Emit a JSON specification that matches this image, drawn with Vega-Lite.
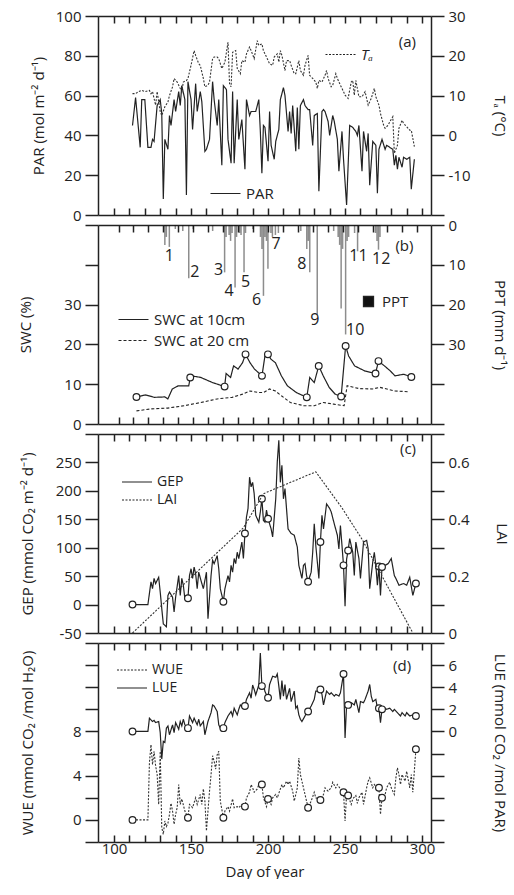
{
"$schema":"https://vega.github.io/schema/vega-lite/v6.json",
"padding":{"left":18,"top":9,"right":3,"bottom":0},
"bounds":"flush",
"config":{
 "font":"Open Sans",
 "view":{"stroke":null},
 "axis":{"grid":false,"ticks":true,"labelOverlap":false,"zindex":1,"domainColor":"#222","domainWidth":1.5,"tickColor":"#222","tickWidth":1.5,"tickSize":13,"labelPadding":4,"labelFontSize":15,"labelColor":"#222","titleFontSize":15,"titleFontWeight":"normal","titleColor":"#222"},
 "axisY":{"titleBaseline":"middle"},
 "legend":{"orient":"none","title":null,"labelFontSize":15,"labelColor":"#222","symbolType":"M-3,0H3","symbolSize":100,"symbolStrokeWidth":1.3,"symbolStrokeColor":"#222","padding":0,"rowPadding":2,"labelOffset":13},
 "line":{"color":"#222","strokeWidth":1.2},
 "text":{"color":"#222","fontSize":15}
},
"datasets":{
 "par":[{"day":112,"v":45},{"day":114,"v":59},{"day":117,"v":34},{"day":118,"v":58},{"day":120,"v":58},{"day":122,"v":34},{"day":124,"v":34},{"day":125,"v":38},{"day":126,"v":37},{"day":128,"v":55},{"day":130,"v":58},{"day":131,"v":51},{"day":132,"v":8},{"day":133,"v":38},{"day":135,"v":33},{"day":136,"v":50},{"day":137,"v":45},{"day":139,"v":58},{"day":140,"v":52},{"day":142,"v":62},{"day":143,"v":55},{"day":144,"v":65},{"day":146,"v":58},{"day":147,"v":10},{"day":148,"v":67},{"day":150,"v":58},{"day":151,"v":43},{"day":153,"v":66},{"day":154,"v":52},{"day":156,"v":62},{"day":157,"v":57},{"day":159,"v":32},{"day":160,"v":33},{"day":162,"v":38},{"day":164,"v":67},{"day":165,"v":58},{"day":167,"v":45},{"day":168,"v":58},{"day":170,"v":25},{"day":171,"v":65},{"day":173,"v":63},{"day":174,"v":38},{"day":176,"v":26},{"day":177,"v":62},{"day":178,"v":26},{"day":180,"v":58},{"day":181,"v":38},{"day":183,"v":48},{"day":185,"v":23},{"day":186,"v":58},{"day":188,"v":50},{"day":189,"v":52},{"day":191,"v":52},{"day":192,"v":52},{"day":194,"v":58},{"day":195,"v":42},{"day":196,"v":21},{"day":197,"v":45},{"day":198,"v":44},{"day":200,"v":27},{"day":201,"v":52},{"day":202,"v":35},{"day":204,"v":28},{"day":205,"v":37},{"day":207,"v":43},{"day":208,"v":58},{"day":210,"v":64},{"day":211,"v":60},{"day":213,"v":42},{"day":214,"v":52},{"day":215,"v":41},{"day":216,"v":55},{"day":218,"v":32},{"day":219,"v":54},{"day":220,"v":33},{"day":221,"v":55},{"day":223,"v":58},{"day":224,"v":55},{"day":226,"v":53},{"day":227,"v":53},{"day":229,"v":35},{"day":230,"v":50},{"day":232,"v":51},{"day":233,"v":12},{"day":235,"v":52},{"day":236,"v":53},{"day":237,"v":52},{"day":239,"v":47},{"day":240,"v":40},{"day":242,"v":50},{"day":243,"v":47},{"day":245,"v":38},{"day":246,"v":22},{"day":248,"v":42},{"day":249,"v":28},{"day":251,"v":5},{"day":253,"v":45},{"day":255,"v":44},{"day":257,"v":42},{"day":258,"v":40},{"day":259,"v":45},{"day":261,"v":22},{"day":262,"v":42},{"day":264,"v":32},{"day":265,"v":41},{"day":266,"v":15},{"day":268,"v":37},{"day":270,"v":35},{"day":271,"v":11},{"day":272,"v":33},{"day":274,"v":38},{"day":276,"v":33},{"day":277,"v":35},{"day":279,"v":34},{"day":281,"v":33},{"day":282,"v":25},{"day":283,"v":30},{"day":284,"v":23},{"day":285,"v":29},{"day":287,"v":24},{"day":288,"v":29},{"day":290,"v":28},{"day":292,"v":29},{"day":293,"v":13},{"day":295,"v":28}],
 "ta":[{"day":112,"v":10.5},{"day":114,"v":10.5},{"day":116,"v":11},{"day":118,"v":11.3},{"day":120,"v":11},{"day":123,"v":11.3},{"day":124,"v":10.5},{"day":125,"v":11},{"day":127,"v":7.6},{"day":128,"v":11},{"day":130,"v":6},{"day":131,"v":5},{"day":133,"v":7.2},{"day":135,"v":8.4},{"day":136,"v":10},{"day":138,"v":12.2},{"day":139,"v":14.3},{"day":141,"v":13.4},{"day":142,"v":12.6},{"day":144,"v":11},{"day":145,"v":13.4},{"day":147,"v":13.8},{"day":148,"v":14.3},{"day":150,"v":17.6},{"day":152,"v":21.3},{"day":153,"v":20.1},{"day":155,"v":18},{"day":156,"v":17.6},{"day":158,"v":14.3},{"day":159,"v":12.2},{"day":161,"v":12.6},{"day":162,"v":13.4},{"day":164,"v":19.3},{"day":165,"v":19.7},{"day":167,"v":19.7},{"day":168,"v":19.3},{"day":170,"v":16.8},{"day":172,"v":18.4},{"day":174,"v":23.4},{"day":175,"v":13},{"day":176,"v":12.2},{"day":177,"v":20.9},{"day":179,"v":21.3},{"day":180,"v":16.8},{"day":182,"v":15.5},{"day":183,"v":18.8},{"day":185,"v":18.4},{"day":186,"v":20.5},{"day":188,"v":22.2},{"day":189,"v":21.3},{"day":191,"v":19.3},{"day":193,"v":23.8},{"day":194,"v":22.6},{"day":196,"v":23},{"day":197,"v":21.3},{"day":199,"v":19.7},{"day":201,"v":18},{"day":203,"v":17.6},{"day":204,"v":19.7},{"day":206,"v":20.5},{"day":207,"v":18.4},{"day":208,"v":21.3},{"day":209,"v":20.1},{"day":211,"v":16.3},{"day":212,"v":18.8},{"day":214,"v":18.8},{"day":215,"v":17.6},{"day":217,"v":15.5},{"day":218,"v":15.5},{"day":220,"v":18.8},{"day":221,"v":16.3},{"day":223,"v":15.1},{"day":224,"v":17.6},{"day":226,"v":20.1},{"day":227,"v":15.1},{"day":229,"v":14.3},{"day":231,"v":13.4},{"day":232,"v":11.8},{"day":233,"v":13.8},{"day":235,"v":13.4},{"day":237,"v":15.1},{"day":238,"v":16.3},{"day":239,"v":14.3},{"day":241,"v":12.2},{"day":242,"v":12.6},{"day":244,"v":15.5},{"day":245,"v":14.3},{"day":247,"v":12.6},{"day":249,"v":11},{"day":250,"v":10.1},{"day":252,"v":9.3},{"day":254,"v":13.4},{"day":255,"v":13.8},{"day":256,"v":10.1},{"day":257,"v":13.8},{"day":259,"v":9.7},{"day":261,"v":9.7},{"day":263,"v":11},{"day":264,"v":9.3},{"day":265,"v":7.6},{"day":267,"v":9.3},{"day":269,"v":11.8},{"day":270,"v":9.7},{"day":272,"v":7.6},{"day":273,"v":5.5},{"day":275,"v":2.6},{"day":276,"v":1.8},{"day":278,"v":2.6},{"day":279,"v":3.4},{"day":281,"v":4.7},{"day":282,"v":-4.5},{"day":284,"v":-2.5},{"day":285,"v":1.8},{"day":287,"v":3.8},{"day":288,"v":3},{"day":290,"v":2.2},{"day":292,"v":1.3},{"day":293,"v":1.3},{"day":295,"v":-2.8}],
 "swc10":[{"day":112,"v":6.8,"ev":1},{"day":118,"v":7.3},{"day":124,"v":6.7},{"day":131,"v":6.8},{"day":133,"v":6.3},{"day":136,"v":8.8},{"day":140,"v":9.6},{"day":147,"v":9.6},{"day":148,"v":11.7,"ev":1},{"day":149,"v":12.1},{"day":155,"v":11.7},{"day":163,"v":10.4},{"day":171,"v":9.4,"ev":1},{"day":172,"v":12.7},{"day":175,"v":11.7},{"day":177,"v":14.6},{"day":180,"v":13.8},{"day":183,"v":15.4},{"day":185,"v":17.5,"ev":1},{"day":188,"v":15.4},{"day":191,"v":13.8},{"day":196,"v":12.1,"ev":1},{"day":198,"v":17.1},{"day":200,"v":17.5,"ev":1},{"day":202,"v":16.3},{"day":205,"v":15.4},{"day":209,"v":12.1},{"day":213,"v":9.6},{"day":219,"v":7.9},{"day":226,"v":6.7,"ev":1},{"day":228,"v":11.7},{"day":231,"v":10.4},{"day":234,"v":14.6,"ev":1},{"day":237,"v":12.1},{"day":241,"v":9.2},{"day":245,"v":7.5},{"day":249,"v":6.9,"ev":1},{"day":252,"v":19.6,"ev":1},{"day":254,"v":17.1},{"day":258,"v":14.6},{"day":265,"v":13.3},{"day":272,"v":12.7,"ev":1},{"day":274,"v":15.8,"ev":1},{"day":278,"v":14.6},{"day":282,"v":13.3},{"day":285,"v":12.1},{"day":291,"v":12.5},{"day":296,"v":11.8,"ev":1}],
 "swc20":[{"day":112,"v":3.3},{"day":122,"v":3.8},{"day":133,"v":4},{"day":144,"v":4.6},{"day":155,"v":5.4},{"day":166,"v":6.3},{"day":176,"v":6.7},{"day":183,"v":7.5},{"day":188,"v":8.3},{"day":194,"v":7.9},{"day":197,"v":7.9},{"day":201,"v":8.8},{"day":205,"v":8.3},{"day":209,"v":7.1},{"day":215,"v":5.4},{"day":224,"v":4.6},{"day":231,"v":4.6},{"day":237,"v":5.4},{"day":244,"v":5},{"day":251,"v":4.6},{"day":253,"v":9.6},{"day":261,"v":8.9},{"day":270,"v":8.8},{"day":275,"v":9.2},{"day":285,"v":8.3},{"day":294,"v":8.1}],
 "ppt":[{"day":131,"v":5},{"day":132,"v":3},{"day":134,"v":5.5},{"day":138,"v":1},{"day":143,"v":1.5},{"day":147,"v":13.4},{"day":150,"v":1},{"day":163,"v":1.5},{"day":171,"v":11.9},{"day":172,"v":3},{"day":174,"v":2.5},{"day":175,"v":4},{"day":176,"v":2},{"day":178,"v":15.7},{"day":179,"v":3},{"day":181,"v":2},{"day":182,"v":2.5},{"day":184,"v":11.9},{"day":185,"v":2},{"day":190,"v":1},{"day":195,"v":3},{"day":196,"v":6},{"day":197,"v":17.8},{"day":198,"v":3},{"day":199,"v":4},{"day":200,"v":11},{"day":202,"v":2},{"day":203,"v":3},{"day":205,"v":2.5},{"day":207,"v":2},{"day":222,"v":1.5},{"day":226,"v":6},{"day":227,"v":4},{"day":228,"v":11.9},{"day":233,"v":22.5},{"day":244,"v":1.5},{"day":247,"v":3},{"day":248,"v":5},{"day":249,"v":21},{"day":250,"v":6},{"day":252,"v":27.5},{"day":253,"v":4},{"day":254,"v":3},{"day":258,"v":2},{"day":260,"v":6.6},{"day":272,"v":2},{"day":273,"v":4},{"day":274,"v":6.2},{"day":275,"v":3}],
 "events":[{"day":134,"v":7.8,"lab":"1"},{"day":151,"v":11.7,"lab":"2"},{"day":167,"v":11.3,"lab":"3"},{"day":174,"v":16.7,"lab":"4"},{"day":185,"v":14.2,"lab":"5"},{"day":192.4,"v":18.9,"lab":"6"},{"day":205.4,"v":4.7,"lab":"7"},{"day":222.7,"v":9.8,"lab":"8"},{"day":231.4,"v":23.9,"lab":"9"},{"day":258.4,"v":26.4,"lab":"10"},{"day":260.6,"v":7.7,"lab":"11"},{"day":275.8,"v":8.6,"lab":"12"}],
 "gep":[{"day":112,"v":0,"ev":1},{"day":122,"v":0},{"day":124,"v":40},{"day":125,"v":28},{"day":126,"v":46},{"day":127,"v":37},{"day":129,"v":48},{"day":130,"v":22},{"day":131,"v":-7},{"day":132,"v":-34},{"day":134,"v":-39},{"day":135,"v":16},{"day":136,"v":22},{"day":138,"v":13},{"day":139,"v":-13},{"day":140,"v":13},{"day":142,"v":51},{"day":143,"v":16},{"day":144,"v":46},{"day":145,"v":34},{"day":146,"v":10},{"day":148,"v":11,"ev":1},{"day":149,"v":51},{"day":150,"v":63},{"day":151,"v":46},{"day":152,"v":66},{"day":153,"v":54},{"day":154,"v":28},{"day":155,"v":57},{"day":157,"v":37},{"day":158,"v":28},{"day":160,"v":57},{"day":161,"v":-25},{"day":163,"v":51},{"day":164,"v":78},{"day":165,"v":72},{"day":167,"v":86},{"day":168,"v":63},{"day":169,"v":28},{"day":171,"v":5,"ev":1},{"day":172,"v":28},{"day":174,"v":51},{"day":175,"v":40},{"day":176,"v":69},{"day":177,"v":57},{"day":178,"v":81},{"day":179,"v":72},{"day":180,"v":92},{"day":181,"v":81},{"day":183,"v":110},{"day":184,"v":81},{"day":185,"v":125,"ev":1},{"day":186,"v":154},{"day":187,"v":169},{"day":188,"v":224},{"day":189,"v":207},{"day":190,"v":215},{"day":191,"v":195},{"day":192,"v":157},{"day":194,"v":145},{"day":195,"v":163},{"day":196,"v":186,"ev":1},{"day":197,"v":148},{"day":198,"v":145},{"day":199,"v":166},{"day":200,"v":151,"ev":1},{"day":202,"v":133},{"day":203,"v":119},{"day":205,"v":186},{"day":206,"v":251},{"day":207,"v":289},{"day":208,"v":215},{"day":209,"v":245},{"day":210,"v":186},{"day":211,"v":204},{"day":213,"v":133},{"day":215,"v":125},{"day":217,"v":122},{"day":219,"v":101},{"day":220,"v":69},{"day":222,"v":46},{"day":223,"v":69},{"day":224,"v":72},{"day":225,"v":51},{"day":226,"v":40,"ev":1},{"day":228,"v":57},{"day":229,"v":92},{"day":230,"v":142},{"day":231,"v":104},{"day":233,"v":46},{"day":234,"v":110,"ev":1},{"day":235,"v":157},{"day":236,"v":133},{"day":238,"v":177},{"day":240,"v":169},{"day":241,"v":163},{"day":243,"v":142},{"day":245,"v":122},{"day":246,"v":98},{"day":247,"v":139},{"day":249,"v":69,"ev":1},{"day":250,"v":-3},{"day":251,"v":80},{"day":252,"v":95,"ev":1},{"day":253,"v":116},{"day":255,"v":92},{"day":256,"v":51},{"day":257,"v":110},{"day":259,"v":81},{"day":260,"v":46},{"day":262,"v":110},{"day":264,"v":113},{"day":265,"v":98},{"day":266,"v":28},{"day":268,"v":75},{"day":269,"v":92},{"day":270,"v":69},{"day":271,"v":34},{"day":272,"v":67,"ev":1},{"day":273,"v":16},{"day":274,"v":66,"ev":1},{"day":276,"v":69},{"day":278,"v":72},{"day":280,"v":81},{"day":282,"v":51},{"day":283,"v":46},{"day":285,"v":34},{"day":288,"v":37},{"day":290,"v":34},{"day":292,"v":48},{"day":294,"v":16},{"day":296,"v":37,"ev":1}],
 "lai":[{"day":112,"v":0},{"day":184,"v":0.37},{"day":197,"v":0.49},{"day":231,"v":0.567},{"day":248,"v":0.44},{"day":261,"v":0.33},{"day":294,"v":0}],
 "wue":[{"day":112,"v":0,"ev":1},{"day":122,"v":0},{"day":123,"v":5.2},{"day":124,"v":6.8},{"day":125,"v":5},{"day":126,"v":6.2},{"day":127,"v":4.9},{"day":128,"v":4.1},{"day":129,"v":1.4},{"day":130,"v":6.2},{"day":131,"v":-0.7},{"day":132,"v":-1.3},{"day":133,"v":-0.1},{"day":134,"v":-0.6},{"day":135,"v":-0.3},{"day":136,"v":0.5},{"day":137,"v":1.5},{"day":138,"v":0.8},{"day":139,"v":-0.4},{"day":140,"v":0.5},{"day":141,"v":1.1},{"day":142,"v":3.2},{"day":143,"v":1.4},{"day":144,"v":1.9},{"day":146,"v":0.8},{"day":148,"v":0.2,"ev":1},{"day":149,"v":1.4},{"day":151,"v":1.1},{"day":153,"v":2},{"day":154,"v":1.4},{"day":156,"v":2.3},{"day":157,"v":1.4},{"day":158,"v":2.8},{"day":159,"v":1.7},{"day":160,"v":-1},{"day":162,"v":2.6},{"day":163,"v":4.1},{"day":164,"v":5.8},{"day":165,"v":5.3},{"day":166,"v":4.6},{"day":167,"v":5.9},{"day":168,"v":6.2},{"day":169,"v":1.7},{"day":171,"v":0.2,"ev":1},{"day":172,"v":0.8},{"day":174,"v":1.2},{"day":175,"v":0.8},{"day":177,"v":1.9},{"day":178,"v":1.1},{"day":180,"v":1.2},{"day":181,"v":1.1},{"day":183,"v":1.4},{"day":185,"v":1.2,"ev":1},{"day":186,"v":2},{"day":188,"v":2.5},{"day":189,"v":3.2},{"day":190,"v":2.9},{"day":191,"v":2.5},{"day":193,"v":2.8},{"day":194,"v":3.2},{"day":196,"v":3.2,"ev":1},{"day":197,"v":2},{"day":199,"v":1.2},{"day":200,"v":1.9,"ev":1},{"day":202,"v":1.4},{"day":203,"v":2},{"day":205,"v":2.3},{"day":206,"v":2},{"day":208,"v":2.8},{"day":209,"v":3.2},{"day":210,"v":2.9},{"day":212,"v":3.5},{"day":213,"v":3.2},{"day":214,"v":3.5},{"day":216,"v":2.6},{"day":217,"v":1.7},{"day":219,"v":2.9},{"day":220,"v":5.6},{"day":221,"v":4.1},{"day":222,"v":3.5},{"day":224,"v":2.3},{"day":225,"v":1.7},{"day":226,"v":1.1,"ev":1},{"day":228,"v":1.7},{"day":230,"v":2.5},{"day":231,"v":2},{"day":233,"v":1.9},{"day":234,"v":1.8,"ev":1},{"day":236,"v":2.3},{"day":237,"v":2.9},{"day":239,"v":2.6},{"day":241,"v":2.9},{"day":242,"v":3.4},{"day":244,"v":2.9},{"day":245,"v":3.2},{"day":247,"v":2.8},{"day":249,"v":2.5,"ev":1},{"day":250,"v":-0.1},{"day":251,"v":2.3},{"day":252,"v":2.2,"ev":1},{"day":254,"v":1.4},{"day":255,"v":1.9},{"day":257,"v":2.2},{"day":258,"v":1.5},{"day":259,"v":2},{"day":261,"v":2.5},{"day":262,"v":1.4},{"day":264,"v":2.9},{"day":265,"v":3.5},{"day":266,"v":3.8},{"day":268,"v":2.9},{"day":269,"v":3.2},{"day":271,"v":2.8},{"day":272,"v":2.9,"ev":1},{"day":273,"v":0.5},{"day":274,"v":2,"ev":1},{"day":276,"v":2.3},{"day":277,"v":2.9},{"day":279,"v":3.4},{"day":280,"v":2.9},{"day":282,"v":2.3},{"day":283,"v":3.8},{"day":284,"v":4.7},{"day":285,"v":4.1},{"day":286,"v":3.2},{"day":287,"v":4.1},{"day":289,"v":3.5},{"day":290,"v":4.4},{"day":292,"v":2.9},{"day":293,"v":4.1},{"day":294,"v":2.5},{"day":296,"v":6.4,"ev":1}],
 "lue":[{"day":112,"v":0,"ev":1},{"day":122,"v":0},{"day":123,"v":1.2},{"day":125,"v":0.9},{"day":126,"v":1},{"day":127,"v":0.8},{"day":129,"v":0.9},{"day":130,"v":-0.1},{"day":131,"v":-2.5},{"day":132,"v":-0.9},{"day":133,"v":-1},{"day":134,"v":0.3},{"day":135,"v":0.5},{"day":136,"v":-0.3},{"day":138,"v":0.6},{"day":139,"v":-0.1},{"day":140,"v":0.8},{"day":142,"v":0.2},{"day":143,"v":0.9},{"day":144,"v":0.5},{"day":145,"v":1.1},{"day":146,"v":0.6},{"day":148,"v":0.3,"ev":1},{"day":149,"v":1.4},{"day":151,"v":0.8},{"day":152,"v":1.2},{"day":154,"v":0.6},{"day":155,"v":1.1},{"day":156,"v":0.5},{"day":158,"v":0.9},{"day":159,"v":-0.3},{"day":161,"v":0.9},{"day":163,"v":1.7},{"day":164,"v":2.4},{"day":165,"v":2.3},{"day":167,"v":1.8},{"day":168,"v":0.6},{"day":169,"v":0.3},{"day":171,"v":0.3,"ev":1},{"day":172,"v":0.8},{"day":174,"v":1.4},{"day":176,"v":1.8},{"day":177,"v":1.4},{"day":178,"v":2.1},{"day":180,"v":1.5},{"day":181,"v":2},{"day":182,"v":2.4},{"day":184,"v":2.1},{"day":185,"v":2.3,"ev":1},{"day":186,"v":2.9},{"day":188,"v":3.5},{"day":189,"v":3},{"day":190,"v":4.2},{"day":191,"v":3.8},{"day":192,"v":3.3},{"day":194,"v":4.2},{"day":195,"v":7.1},{"day":196,"v":4.1,"ev":1},{"day":197,"v":4.25},{"day":198,"v":3.6},{"day":200,"v":3.05,"ev":1},{"day":201,"v":4.25},{"day":203,"v":5},{"day":205,"v":4.9},{"day":206,"v":5.2},{"day":207,"v":4.1},{"day":208,"v":2.9},{"day":209,"v":4.6},{"day":210,"v":3.2},{"day":211,"v":4.25},{"day":212,"v":2.9},{"day":214,"v":3.9},{"day":215,"v":2.7},{"day":217,"v":3.65},{"day":218,"v":2.1},{"day":219,"v":2.3},{"day":220,"v":1.5},{"day":221,"v":1.1},{"day":222,"v":0.9},{"day":224,"v":1.4},{"day":225,"v":1.7},{"day":226,"v":1.8,"ev":1},{"day":228,"v":2.3},{"day":230,"v":2.9},{"day":231,"v":3.65},{"day":233,"v":3.65},{"day":234,"v":3.8,"ev":1},{"day":235,"v":3.35},{"day":236,"v":2.4},{"day":238,"v":3.65},{"day":240,"v":3.35},{"day":241,"v":3.5},{"day":243,"v":3.2},{"day":244,"v":3.35},{"day":246,"v":3.2},{"day":247,"v":3.5},{"day":249,"v":5.2,"ev":1},{"day":250,"v":-0.6},{"day":251,"v":2.4},{"day":252,"v":2.4,"ev":1},{"day":254,"v":2.6},{"day":256,"v":2.4},{"day":257,"v":2.9},{"day":259,"v":1.7},{"day":260,"v":2.7},{"day":262,"v":2.6},{"day":263,"v":2.9},{"day":265,"v":3.65},{"day":266,"v":4.25},{"day":267,"v":3.2},{"day":268,"v":2.7},{"day":270,"v":2.9},{"day":271,"v":2.1},{"day":272,"v":2.1,"ev":1},{"day":273,"v":0.8},{"day":274,"v":2,"ev":1},{"day":276,"v":2.1},{"day":277,"v":2},{"day":279,"v":2.1},{"day":281,"v":1.8},{"day":282,"v":2},{"day":284,"v":1.7},{"day":286,"v":1.4},{"day":287,"v":1.7},{"day":289,"v":1.4},{"day":290,"v":1.7},{"day":292,"v":1.4},{"day":294,"v":1.5},{"day":296,"v":1.4,"ev":1}]
},
"spacing":10,
"resolve":{"scale":{"x":"independent","y":"independent","strokeDash":"independent","fill":"independent"},"legend":{"strokeDash":"independent","fill":"independent"}},
"vconcat":[
 {"width":333,"height":199,
  "layer":[
   {"layer":[
    {"data":{"name":"par"},"mark":{"type":"line"},
     "encoding":{
      "x":{"field":"day","type":"quantitative","scale":{"domain":[89.6,305.8],"nice":false,"zero":false},"axis":{"orient":"bottom","values":[100,110,120,130,140,150,160,170,180,190,200,210,220,230,240,250,260,270,280,290,300],"ticks":true,"tickSize":-7,"labels":false,"labelOverlap":false,"title":null}},
      "y":{"field":"v","type":"quantitative","scale":{"domain":[0,100],"nice":false,"zero":false},"axis":{"orient":"left","values":[0,20,40,60,80,100],"ticks":true,"tickSize":13,"labelOverlap":false,"title":"PAR (mol m⁻² d⁻¹)","titleX":-60}},
      "strokeDash":{"datum":"PAR","scale":{"domain":["PAR"],"range":[[1,0]]},"legend":{"legendX":120,"legendY":170}}}},
    {"data":{"values":[{}]},"mark":{"type":"text","align":"right","baseline":"middle"},
     "encoding":{
      "x":{"datum":296,"type":"quantitative","axis":{"orient":"bottom","values":[100,110,120,130,140,150,160,170,180,190,200,210,220,230,240,250,260,270,280,290,300],"ticks":true,"tickSize":-7,"labels":false,"labelOverlap":false,"title":null}},
      "y":{"datum":87,"type":"quantitative","axis":{"orient":"left","values":[0,20,40,60,80,100],"ticks":true,"tickSize":13,"labelOverlap":false,"title":"PAR (mol m⁻² d⁻¹)","titleX":-60}},
      "text":{"value":"(a)"}}}
   ]},
   {"data":{"name":"ta"},"mark":{"type":"line","color":"#333","strokeWidth":1.1},
    "encoding":{
     "x":{"field":"day","type":"quantitative","axis":{"orient":"top","values":[100,110,120,130,140,150,160,170,180,190,200,210,220,230,240,250,260,270,280,290,300],"ticks":true,"tickSize":-7,"labels":false,"labelOverlap":false,"title":null}},
     "y":{"field":"v","type":"quantitative","scale":{"domain":[-20,30],"nice":false,"zero":false},"axis":{"orient":"right","values":[-20,-10,0,10,20,30],"ticks":true,"tickSize":13,"labelOverlap":false,"labelExpr":"datum.value === -20 ? '' : '' + datum.value","title":"Tₐ (°C)","titleX":68}},
     "strokeDash":{"datum":"Tₐ","scale":{"domain":["Tₐ"],"range":[[2,1.5]]},"legend":{"legendX":235,"legendY":31,"labelFontStyle":"italic"}}}}
  ],
  "resolve":{"scale":{"y":"independent","strokeDash":"independent"},"legend":{"strokeDash":"independent"}}
 },
 {"width":333,"height":199,
  "layer":[
   {"layer":[
    {"data":{"name":"swc10"},"mark":{"type":"line"},
     "encoding":{
      "x":{"field":"day","type":"quantitative","scale":{"domain":[89.6,305.8],"nice":false,"zero":false},"axis":{"orient":"bottom","values":[100,110,120,130,140,150,160,170,180,190,200,210,220,230,240,250,260,270,280,290,300],"ticks":true,"tickSize":-7,"labels":false,"labelOverlap":false,"title":null}},
      "y":{"field":"v","type":"quantitative","scale":{"domain":[0,50],"nice":false,"zero":false},"axis":{"orient":"left","values":[0,10,20,30,40,50],"ticks":true,"tickSize":13,"labelOverlap":false,"labelExpr":"datum.value <= 30 ? datum.label : ''","title":"SWC (%)","titleX":-73}},
      "strokeDash":{"datum":"SWC at 10cm","scale":{"domain":["SWC at 10cm","SWC at 20 cm"],"range":[[1,0],[3,2]]},"legend":{"legendX":28,"legendY":87,"rowPadding":5}}}},
    {"data":{"name":"swc20"},"mark":{"type":"line","strokeWidth":1.1},
     "encoding":{
      "x":{"field":"day","type":"quantitative","axis":{"orient":"bottom","values":[100,110,120,130,140,150,160,170,180,190,200,210,220,230,240,250,260,270,280,290,300],"ticks":true,"tickSize":-7,"labels":false,"labelOverlap":false,"title":null}},
      "y":{"field":"v","type":"quantitative","axis":{"orient":"left","values":[0,10,20,30,40,50],"ticks":true,"tickSize":13,"labelOverlap":false,"labelExpr":"datum.value <= 30 ? datum.label : ''","title":"SWC (%)","titleX":-73}},
      "strokeDash":{"datum":"SWC at 20 cm","scale":{"domain":["SWC at 10cm","SWC at 20 cm"],"range":[[1,0],[3,2]]},"legend":{"legendX":28,"legendY":87,"rowPadding":5}}}},
    {"data":{"name":"swc10"},"transform":[{"filter":"datum.ev == 1"}],"mark":{"type":"point","shape":"circle","filled":true,"fill":"white","stroke":"#222","strokeWidth":1.2,"size":45,"opacity":1},
     "encoding":{
      "x":{"field":"day","type":"quantitative","axis":{"orient":"bottom","values":[100,110,120,130,140,150,160,170,180,190,200,210,220,230,240,250,260,270,280,290,300],"ticks":true,"tickSize":-7,"labels":false,"labelOverlap":false,"title":null}},
      "y":{"field":"v","type":"quantitative","axis":{"orient":"left","values":[0,10,20,30,40,50],"ticks":true,"tickSize":13,"labelOverlap":false,"labelExpr":"datum.value <= 30 ? datum.label : ''","title":"SWC (%)","titleX":-73}}}},
    {"data":{"values":[{}]},"mark":{"type":"text","align":"right","baseline":"middle"},
     "encoding":{
      "x":{"datum":297.4,"type":"quantitative","axis":{"orient":"bottom","values":[100,110,120,130,140,150,160,170,180,190,200,210,220,230,240,250,260,270,280,290,300],"ticks":true,"tickSize":-7,"labels":false,"labelOverlap":false,"title":null}},
      "y":{"datum":44.75,"type":"quantitative","axis":{"orient":"left","values":[0,10,20,30,40,50],"ticks":true,"tickSize":13,"labelOverlap":false,"labelExpr":"datum.value <= 30 ? datum.label : ''","title":"SWC (%)","titleX":-73}},
      "text":{"value":"(b)"}}}
   ]},
   {"layer":[
    {"data":{"name":"ppt"},"mark":{"type":"bar","size":1.5,"fillOpacity":0.48},
     "encoding":{
      "x":{"field":"day","type":"quantitative","axis":{"orient":"top","values":[100,110,120,130,140,150,160,170,180,190,200,210,220,230,240,250,260,270,280,290,300],"ticks":true,"tickSize":-7,"labels":false,"labelOverlap":false,"title":null}},
      "y":{"field":"v","type":"quantitative","scale":{"domain":[0,50],"reverse":true,"nice":false},"axis":{"orient":"right","values":[0,10,20,30,40,50],"ticks":true,"tickSize":13,"labelOverlap":false,"labelExpr":"datum.value <= 30 ? datum.label : ''","title":"PPT (mm d⁻¹)","titleX":68}},
      "fill":{"datum":"PPT","scale":{"domain":["PPT"],"range":["#111111"]},"legend":{"legendX":263,"legendY":69,"symbolType":"square","symbolSize":100,"labelOffset":6}}}},
    {"data":{"name":"events"},"mark":{"type":"text","fontSize":16},
     "encoding":{
      "x":{"field":"day","type":"quantitative","axis":{"orient":"top","values":[100,110,120,130,140,150,160,170,180,190,200,210,220,230,240,250,260,270,280,290,300],"ticks":true,"tickSize":-7,"labels":false,"labelOverlap":false,"title":null}},
      "y":{"field":"v","type":"quantitative","axis":{"orient":"right","values":[0,10,20,30,40,50],"ticks":true,"tickSize":13,"labelOverlap":false,"labelExpr":"datum.value <= 30 ? datum.label : ''","title":"PPT (mm d⁻¹)","titleX":68}},
      "text":{"field":"lab"}}}
   ]}
  ],
  "resolve":{"scale":{"y":"independent"}}
 },
 {"width":333,"height":199,
  "layer":[
   {"layer":[
    {"data":{"name":"gep"},"mark":{"type":"line"},
     "encoding":{
      "x":{"field":"day","type":"quantitative","scale":{"domain":[89.6,305.8],"nice":false,"zero":false},"axis":{"orient":"bottom","values":[100,110,120,130,140,150,160,170,180,190,200,210,220,230,240,250,260,270,280,290,300],"ticks":true,"tickSize":-7,"labels":false,"labelOverlap":false,"title":null}},
      "y":{"field":"v","type":"quantitative","scale":{"domain":[-50,300],"nice":false,"zero":false},"axis":{"orient":"left","values":[-50,0,50,100,150,200,250,300],"ticks":true,"tickSize":13,"labelOverlap":false,"labelExpr":"datum.value < 300 ? '' + datum.value : ''","title":"GEP (mmol CO₂ m⁻² d⁻¹)","titleX":-71}},
      "strokeDash":{"datum":"GEP","scale":{"domain":["GEP","LAI"],"range":[[1,0],[2,1.5]]},"legend":{"legendX":32,"legendY":41,"rowPadding":4,"labelFontSize":14}}}},
    {"data":{"name":"gep"},"transform":[{"filter":"datum.ev == 1"}],"mark":{"type":"point","shape":"circle","filled":true,"fill":"white","stroke":"#222","strokeWidth":1.2,"size":45,"opacity":1},
     "encoding":{
      "x":{"field":"day","type":"quantitative","axis":{"orient":"bottom","values":[100,110,120,130,140,150,160,170,180,190,200,210,220,230,240,250,260,270,280,290,300],"ticks":true,"tickSize":-7,"labels":false,"labelOverlap":false,"title":null}},
      "y":{"field":"v","type":"quantitative","axis":{"orient":"left","values":[-50,0,50,100,150,200,250,300],"ticks":true,"tickSize":13,"labelOverlap":false,"labelExpr":"datum.value < 300 ? '' + datum.value : ''","title":"GEP (mmol CO₂ m⁻² d⁻¹)","titleX":-71}}}},
    {"data":{"values":[{}]},"mark":{"type":"text","align":"right","baseline":"middle"},
     "encoding":{
      "x":{"datum":296.1,"type":"quantitative","axis":{"orient":"bottom","values":[100,110,120,130,140,150,160,170,180,190,200,210,220,230,240,250,260,270,280,290,300],"ticks":true,"tickSize":-7,"labels":false,"labelOverlap":false,"title":null}},
      "y":{"datum":273.6,"type":"quantitative","axis":{"orient":"left","values":[-50,0,50,100,150,200,250,300],"ticks":true,"tickSize":13,"labelOverlap":false,"labelExpr":"datum.value < 300 ? '' + datum.value : ''","title":"GEP (mmol CO₂ m⁻² d⁻¹)","titleX":-71}},
      "text":{"value":"(c)"}}}
   ]},
   {"data":{"name":"lai"},"mark":{"type":"line","color":"#333","strokeWidth":1.1},
    "encoding":{
     "x":{"field":"day","type":"quantitative","axis":{"orient":"top","values":[100,110,120,130,140,150,160,170,180,190,200,210,220,230,240,250,260,270,280,290,300],"ticks":true,"tickSize":-7,"labels":false,"labelOverlap":false,"title":null}},
     "y":{"field":"v","type":"quantitative","scale":{"domain":[0,0.7],"nice":false,"zero":false},"axis":{"orient":"right","values":[0,0.1,0.2,0.3,0.4,0.5,0.6,0.7],"ticks":true,"tickSize":13,"labelOverlap":false,"format":"~g","labelExpr":"indexof([0,0.2,0.4,0.6], datum.value) >= 0 ? datum.label : ''","title":"LAI","titleX":70}},
     "strokeDash":{"datum":"LAI","scale":{"domain":["GEP","LAI"],"range":[[1,0],[2,1.5]]},"legend":{"legendX":32,"legendY":41,"rowPadding":4,"labelFontSize":14}}}}
  ],
  "resolve":{"scale":{"y":"independent"}}
 },
 {"width":333,"height":199,
  "layer":[
   {"layer":[
    {"data":{"name":"wue"},"mark":{"type":"line","color":"#333","strokeWidth":1.1},
     "encoding":{
      "x":{"field":"day","type":"quantitative","scale":{"domain":[89.6,305.8],"nice":false,"zero":false},"axis":{"orient":"bottom","values":[100,110,120,130,140,150,160,170,180,190,200,210,220,230,240,250,260,270,280,290,300],"ticks":true,"tickSize":-7,"labelOverlap":false,"labelPadding":6,"labelExpr":"datum.value % 50 === 0 ? datum.label : ''","title":"Day of year","titlePadding":8}},
      "y":{"field":"v","type":"quantitative","scale":{"domain":[-2,16],"nice":false,"zero":false},"axis":{"orient":"left","values":[-2,0,2,4,6,8,10,12,14,16],"ticks":true,"tickSize":13,"labelOverlap":false,"labelExpr":"indexof([0,4,8], datum.value) >= 0 ? datum.label : ''","title":"WUE (mmol CO₂ /mol H₂O)","titleX":-71}},
      "strokeDash":{"datum":"WUE","scale":{"domain":["WUE","LUE"],"range":[[2,1.5],[1,0]]},"legend":{"legendX":27,"legendY":20,"rowPadding":4,"labelFontSize":14}}}},
    {"data":{"name":"wue"},"transform":[{"filter":"datum.ev == 1"}],"mark":{"type":"point","shape":"circle","filled":true,"fill":"white","stroke":"#222","strokeWidth":1.2,"size":45,"opacity":1},
     "encoding":{
      "x":{"field":"day","type":"quantitative","axis":{"orient":"bottom","values":[100,110,120,130,140,150,160,170,180,190,200,210,220,230,240,250,260,270,280,290,300],"ticks":true,"tickSize":-7,"labelOverlap":false,"labelPadding":6,"labelExpr":"datum.value % 50 === 0 ? datum.label : ''","title":"Day of year","titlePadding":8}},
      "y":{"field":"v","type":"quantitative","axis":{"orient":"left","values":[-2,0,2,4,6,8,10,12,14,16],"ticks":true,"tickSize":13,"labelOverlap":false,"labelExpr":"indexof([0,4,8], datum.value) >= 0 ? datum.label : ''","title":"WUE (mmol CO₂ /mol H₂O)","titleX":-71}}}},
    {"data":{"values":[{}]},"mark":{"type":"text","align":"right","baseline":"middle"},
     "encoding":{
      "x":{"datum":292.9,"type":"quantitative","axis":{"orient":"bottom","values":[100,110,120,130,140,150,160,170,180,190,200,210,220,230,240,250,260,270,280,290,300],"ticks":true,"tickSize":-7,"labelOverlap":false,"labelPadding":6,"labelExpr":"datum.value % 50 === 0 ? datum.label : ''","title":"Day of year","titlePadding":8}},
      "y":{"datum":13.9,"type":"quantitative","axis":{"orient":"left","values":[-2,0,2,4,6,8,10,12,14,16],"ticks":true,"tickSize":13,"labelOverlap":false,"labelExpr":"indexof([0,4,8], datum.value) >= 0 ? datum.label : ''","title":"WUE (mmol CO₂ /mol H₂O)","titleX":-71}},
      "text":{"value":"(d)"}}}
   ]},
   {"layer":[
    {"data":{"name":"lue"},"mark":{"type":"line"},
     "encoding":{
      "x":{"field":"day","type":"quantitative","axis":{"orient":"top","values":[100,110,120,130,140,150,160,170,180,190,200,210,220,230,240,250,260,270,280,290,300],"ticks":true,"tickSize":-7,"labels":false,"labelOverlap":false,"title":null}},
      "y":{"field":"v","type":"quantitative","scale":{"domain":[-10,8],"nice":false,"zero":false},"axis":{"orient":"right","values":[-10,-8,-6,-4,-2,0,2,4,6,8],"ticks":true,"tickSize":13,"labelOverlap":false,"labelExpr":"datum.value >= 0 && datum.value <= 6 ? datum.label : ''","title":"LUE (mmol CO₂ /mol PAR)","titleX":68}},
      "strokeDash":{"datum":"LUE","scale":{"domain":["WUE","LUE"],"range":[[2,1.5],[1,0]]},"legend":{"legendX":27,"legendY":20,"rowPadding":4,"labelFontSize":14}}}},
    {"data":{"name":"lue"},"transform":[{"filter":"datum.ev == 1"}],"mark":{"type":"point","shape":"circle","filled":true,"fill":"white","stroke":"#222","strokeWidth":1.2,"size":45,"opacity":1},
     "encoding":{
      "x":{"field":"day","type":"quantitative","axis":{"orient":"top","values":[100,110,120,130,140,150,160,170,180,190,200,210,220,230,240,250,260,270,280,290,300],"ticks":true,"tickSize":-7,"labels":false,"labelOverlap":false,"title":null}},
      "y":{"field":"v","type":"quantitative","axis":{"orient":"right","values":[-10,-8,-6,-4,-2,0,2,4,6,8],"ticks":true,"tickSize":13,"labelOverlap":false,"labelExpr":"datum.value >= 0 && datum.value <= 6 ? datum.label : ''","title":"LUE (mmol CO₂ /mol PAR)","titleX":68}}}}
   ]}
  ],
  "resolve":{"scale":{"y":"independent"}}
 }
]
}
